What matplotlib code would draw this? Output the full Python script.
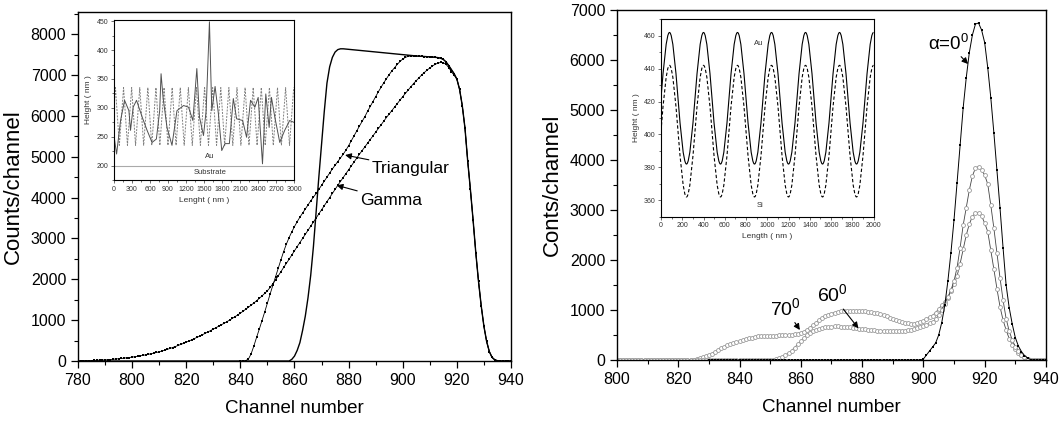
import numpy as np
import matplotlib
matplotlib.use('Agg')
import matplotlib.pyplot as plt
from matplotlib.path import Path
from matplotlib.patches import PathPatch
from matplotlib.ticker import MultipleLocator

plt.rcParams['font.family'] = ['Liberation Sans', 'DejaVu Sans']
plt.rcParams['mathtext.fontset'] = 'custom'
plt.rcParams['mathtext.rm'] = 'Liberation Sans'

# ---- left panel: energy spectra for two roughness models ----
solid_ch = [780, 858, 859, 860, 861, 862, 863, 864, 865, 866, 867, 868, 869, 870, 871, 872, 873,
            874, 875, 876, 877, 878, 885, 895, 905, 910, 913, 914, 915, 916, 917, 918, 919, 920,
            921, 922, 923, 924, 925, 926, 927, 928, 929, 930, 931, 932, 933, 934, 935, 936, 940]
solid_counts = [0, 0, 40, 120, 260, 450, 750, 1100, 1550, 2100, 2800, 3650, 4500, 5300, 6100,
                6800, 7200, 7430, 7560, 7620, 7640, 7640, 7595, 7530, 7465, 7443, 7425, 7410,
                7380, 7320, 7230, 7130, 7030, 6900, 6650, 6250, 5700, 4900, 4200, 3450, 2650,
                1950, 1350, 850, 480, 230, 90, 30, 8, 0, 0]

tri_ch = np.arange(840, 941)
tri_counts = [0, 0, 10, 50, 180, 370, 580, 780, 990, 1200,
              1420, 1640, 1850, 2060, 2270, 2480, 2680, 2860, 3020, 3160,
              3290, 3410, 3520, 3620, 3720, 3820, 3920, 4010, 4100, 4200,
              4300, 4400, 4500, 4600, 4700, 4790, 4880, 4970, 5060, 5160,
              5270, 5390, 5510, 5630, 5750, 5865, 5980, 6110, 6230, 6350,
              6470, 6590, 6700, 6810, 6910, 7010, 7100, 7180, 7260, 7330,
              7390, 7430, 7455, 7465, 7465, 7460, 7458, 7455, 7450, 7447,
              7443, 7440, 7435, 7425, 7410, 7380, 7320, 7230, 7130, 7030,
              6900, 6650, 6250, 5700, 4900, 4200, 3450, 2650, 1950, 1350,
              850, 480, 230, 90, 30, 8, 0, 0, 0, 0, 0]

gam_ch = np.arange(780, 941)
gam_counts = [5, 6, 8, 10, 11, 12, 15, 17, 20, 22,
              25, 30, 36, 42, 48, 55, 62, 70, 78, 86,
              95, 105, 115, 126, 138, 150, 164, 178, 193, 209,
              225, 244, 264, 285, 307, 330, 355, 380, 405, 432,
              460, 489, 518, 548, 579, 610, 643, 677, 711, 745,
              780, 815, 851, 887, 923, 960, 1000, 1041, 1083, 1126,
              1170, 1218, 1267, 1317, 1368, 1420, 1476, 1533, 1592, 1655,
              1720, 1800, 1890, 1985, 2085, 2190, 2290, 2390, 2490, 2595,
              2700, 2800, 2900, 3000, 3100, 3200, 3300, 3400, 3500, 3600,
              3700, 3800, 3900, 4000, 4100, 4200, 4300, 4395, 4490, 4585,
              4680, 4775, 4870, 4965, 5060, 5150, 5240, 5330, 5420, 5510,
              5600, 5690, 5780, 5870, 5960, 6045, 6130, 6215, 6300, 6385,
              6470, 6550, 6630, 6710, 6790, 6860, 6930, 7000, 7060, 7120,
              7170, 7220, 7260, 7290, 7305, 7300, 7260, 7180, 7080, 6990,
              6900, 6650, 6250, 5700, 4900, 4200, 3450, 2650, 1950, 1350,
              850, 480, 230, 90, 30, 8, 0, 0, 0, 0, 0]

# left inset: AFM profile
afm_x = [0, 44, 110, 177, 249, 276, 320, 376, 470, 552, 635, 707, 762, 785, 818, 884, 967,
         1050, 1160, 1243, 1315, 1381, 1425, 1492, 1536, 1591, 1630, 1685, 1740, 1796, 1851,
         1923, 1989, 2044, 2144, 2210, 2276, 2348, 2403, 2475, 2530, 2586, 2624, 2680, 2763,
         2845, 2928, 2995]
afm_h = [252, 220, 278, 313, 295, 261, 301, 313, 284, 261, 240, 246, 295, 359, 318, 266, 235,
         295, 304, 301, 278, 368, 284, 252, 295, 449, 295, 337, 290, 226, 238,
         238, 316, 281, 278, 249, 313, 301, 318, 203, 324, 266, 318, 284, 240,
         261, 278, 275]
saw_x = [0, 25, 90, 160, 225, 295, 360, 430, 495, 565, 630, 700, 765, 835, 900, 970, 1035,
         1105, 1170, 1240, 1305, 1375, 1440, 1510, 1575, 1645, 1710, 1780, 1845, 1915, 1980,
         2050, 2115, 2185, 2250, 2320, 2385, 2455, 2520, 2590, 2655, 2725, 2790, 2860, 2925,
         2995]
saw_h = [300, 335, 235, 335, 235, 335, 235, 335, 235, 335, 235, 335, 235, 335, 235, 335, 235,
         335, 235, 335, 235, 335, 235, 335, 235, 335, 235, 335, 235, 335, 235,
         335, 235, 335, 235, 335, 235, 335, 235, 335, 235, 335, 235, 335, 235,
         335]

# ---- right panel: spectra at three tilt angles ----
ch_right = np.arange(800, 941)
a70_counts = [0] * 26 + [
    20, 40, 60, 80, 100, 130, 165, 200, 235, 265,
    295, 320, 340, 360, 380, 400, 420, 435, 450, 462,
    472, 480, 485, 488, 490, 490, 490, 492, 495, 498,
    502, 508, 516, 528, 545, 570, 605, 650, 700, 750,
    800, 845, 880, 910, 930, 948, 962, 972, 980, 985,
    988, 990, 990, 988, 984, 978, 970, 960, 948, 932,
    915, 895, 872, 848, 825, 800, 778, 758, 742, 732,
    728, 730, 740, 758, 785, 820, 860, 890, 950, 1020,
    1100, 1170, 1250, 1380, 1520, 1680, 1930, 2220, 2500, 2720,
    2870, 2940, 2950, 2880, 2740, 2570, 2200, 1820, 1430, 1070,
    800, 600, 430, 310, 220, 150, 95, 55, 25, 10,
    0, 0, 0, 0, 0]
a60_counts = [0] * 50 + [
    0, 10, 25, 45, 70, 100, 140, 190, 250, 315,
    380, 440, 495, 540, 575, 605, 628, 645, 657, 665,
    670, 672, 672, 670, 666, 660, 653, 645, 637, 628,
    620, 612, 604, 597, 591, 586, 582, 579, 577, 576,
    576, 577, 579, 583, 588, 595, 605, 618, 635, 656,
    682, 710, 735, 760, 820, 900, 1010, 1130, 1260, 1400,
    1580, 1850, 2250, 2700, 3050, 3400, 3680, 3840, 3870, 3800,
    3700, 3520, 3100, 2640, 2150, 1650, 1200, 830, 580, 400,
    270, 180, 110, 60, 25, 10, 0, 0, 0, 0, 0]
a0_ch = np.arange(830, 941)
a0_counts = [0] * 70 + [
    20, 100, 180, 260, 340, 500, 750, 1100, 1580, 2150,
    2800, 3550, 4300, 5050, 5650, 6150, 6500, 6720, 6740, 6600,
    6350, 5850, 5250, 4550, 3800, 3050, 2250, 1500, 1050, 720,
    450, 280, 170, 90, 40, 10, 0, 0, 0, 0, 0]

# right inset: sinusoidal grating, extrema positions
ext_x = [-80, 80, 240, 400, 560, 720, 880, 1040, 1200, 1360, 1520, 1680, 1840, 2000]
au_h = [382, 462, 382, 462, 382, 462, 382, 462, 382, 462, 382, 462, 382, 462]
si_h = [362, 442, 362, 442, 362, 442, 362, 442, 362, 442, 362, 442, 362, 442]


def smooth_path(xs, ys):
    # cubic bezier through extrema with flat tangents
    verts = [(xs[0], ys[0])]
    codes = [Path.MOVETO]
    k = 0.3642
    for i in range(1, len(xs)):
        dx = xs[i] - xs[i - 1]
        verts += [(xs[i - 1] + k * dx, ys[i - 1]), (xs[i] - k * dx, ys[i]), (xs[i], ys[i])]
        codes += [Path.CURVE4] * 3
    return Path(verts, codes)


def style_main(ax):
    ax.tick_params(which='major', direction='out', length=5, width=0.9, labelsize=11.5)
    ax.tick_params(which='minor', direction='out', length=3, width=0.8)
    ax.xaxis.set_major_locator(MultipleLocator(20))
    ax.xaxis.set_minor_locator(MultipleLocator(10))
    ax.yaxis.set_major_locator(MultipleLocator(1000))
    ax.yaxis.set_minor_locator(MultipleLocator(500))
    for s in ax.spines.values():
        s.set_linewidth(1.0)


def style_inset(ax):
    ax.tick_params(which='major', direction='out', length=2.5, width=0.5, labelsize=5,
                   colors='#333333', pad=1.5)
    ax.tick_params(which='minor', direction='out', length=1.5, width=0.5, colors='#333333')
    for s in ax.spines.values():
        s.set_linewidth(0.8)


fig = plt.figure(figsize=(10.61, 4.22), dpi=100)

# left main
ax_l = fig.add_axes([0.0735, 0.1445, 0.4081, 0.827])
ax_l.plot(solid_ch, solid_counts, 'k-', lw=1.0)
ax_l.plot(gam_ch, gam_counts, 'k-', lw=0.6, marker='s', ms=2.0, mew=0)
ax_l.plot(tri_ch, tri_counts, 'k-', lw=0.6, marker='s', ms=2.0, mew=0)
ax_l.set_xlim(780, 940)
ax_l.set_ylim(0, 8540)
style_main(ax_l)
ax_l.set_xlabel('Channel number', fontsize=13.5, labelpad=9)
ax_l.set_ylabel('Counts/channel', fontsize=16, labelpad=5)
arrow = dict(arrowstyle='-|>', color='k', lw=0.8, mutation_scale=9, shrinkA=0, shrinkB=0)
ax_l.annotate('Triangular', xy=(878.7, 5040), xytext=(888.5, 4720), fontsize=12.5,
              va='center', ha='left', arrowprops=arrow)
ax_l.annotate('Gamma', xy=(875.6, 4300), xytext=(884.2, 3940), fontsize=12.5,
              va='center', ha='left', arrowprops=arrow)

# left inset
ax_li = fig.add_axes([0.1074, 0.5735, 0.1697, 0.379])
ax_li.plot(saw_x, saw_h, color='#808080', lw=0.7, ls=(0, (2, 1.3)))
ax_li.plot(afm_x, afm_h, color='#505050', lw=0.7)
ax_li.axhline(200, color='#aaaaaa', lw=0.8)
ax_li.text(1600, 215, 'Au', fontsize=5.5, ha='center', va='center', color='#333333')
ax_li.text(1600, 188, 'Substrate', fontsize=5.5, ha='center', va='center', color='#333333')
ax_li.set_xlim(0, 3000)
ax_li.set_ylim(175, 452)
ax_li.xaxis.set_major_locator(MultipleLocator(300))
ax_li.xaxis.set_minor_locator(MultipleLocator(150))
ax_li.yaxis.set_major_locator(MultipleLocator(50))
ax_li.yaxis.set_minor_locator(MultipleLocator(25))
style_inset(ax_li)
ax_li.set_xlabel('Lenght ( nm )', fontsize=6, color='#333333', labelpad=3)
ax_li.set_ylabel('Height ( nm )', fontsize=6, color='#333333', labelpad=3)

# right main
ax_r = fig.add_axes([0.5815, 0.1469, 0.4043, 0.8294])
ax_r.plot(ch_right, a70_counts, '-', color='#444444', lw=0.6, marker='o', ms=2.8,
          mfc='white', mec='#999999', mew=0.6)
ax_r.plot(ch_right, a60_counts, '-', color='#444444', lw=0.6, marker='o', ms=2.8,
          mfc='white', mec='#999999', mew=0.6)
ax_r.plot(a0_ch, a0_counts, 'k-', lw=0.7, marker='s', ms=1.9, mew=0)
ax_r.set_xlim(800, 940)
ax_r.set_ylim(0, 7000)
style_main(ax_r)
ax_r.set_xlabel('Channel number', fontsize=13.5, labelpad=9)
ax_r.set_ylabel('Conts/channel', fontsize=16, labelpad=5)
ax_r.annotate('\u03b1=0$^0$', xy=(914.6, 5920), xytext=(901.5, 6330), fontsize=13.5,
              va='center', ha='left', arrowprops=arrow)
ax_r.annotate('70$^0$', xy=(859.7, 600), xytext=(849.9, 1030), fontsize=14,
              va='center', ha='left', arrowprops=arrow)
ax_r.annotate('60$^0$', xy=(878.8, 633), xytext=(865.2, 1300), fontsize=14,
              va='center', ha='left', arrowprops=arrow)

# right inset
ax_ri = fig.add_axes([0.6230, 0.4866, 0.2003, 0.4676])
ax_ri.add_patch(PathPatch(smooth_path(ext_x, au_h), fill=False, color='k', lw=0.8))
ax_ri.add_patch(PathPatch(smooth_path(ext_x, si_h), fill=False, color='k', lw=0.8,
                          ls=(0, (3, 2))))
ax_ri.text(917, 455, 'Au', fontsize=5.5, ha='center', va='center', color='#333333')
ax_ri.text(932, 357, 'Si', fontsize=5.5, ha='center', va='center', color='#333333')
ax_ri.set_xlim(0, 2000)
ax_ri.set_ylim(350, 470)
ax_ri.xaxis.set_major_locator(MultipleLocator(200))
ax_ri.xaxis.set_minor_locator(MultipleLocator(100))
ax_ri.yaxis.set_major_locator(MultipleLocator(20))
ax_ri.yaxis.set_minor_locator(MultipleLocator(10))
style_inset(ax_ri)
ax_ri.set_xlabel('Length ( nm )', fontsize=6, color='#333333', labelpad=3)
ax_ri.set_ylabel('Height ( nm )', fontsize=6, color='#333333', labelpad=3)

fig.savefig('out.png', dpi=100)
